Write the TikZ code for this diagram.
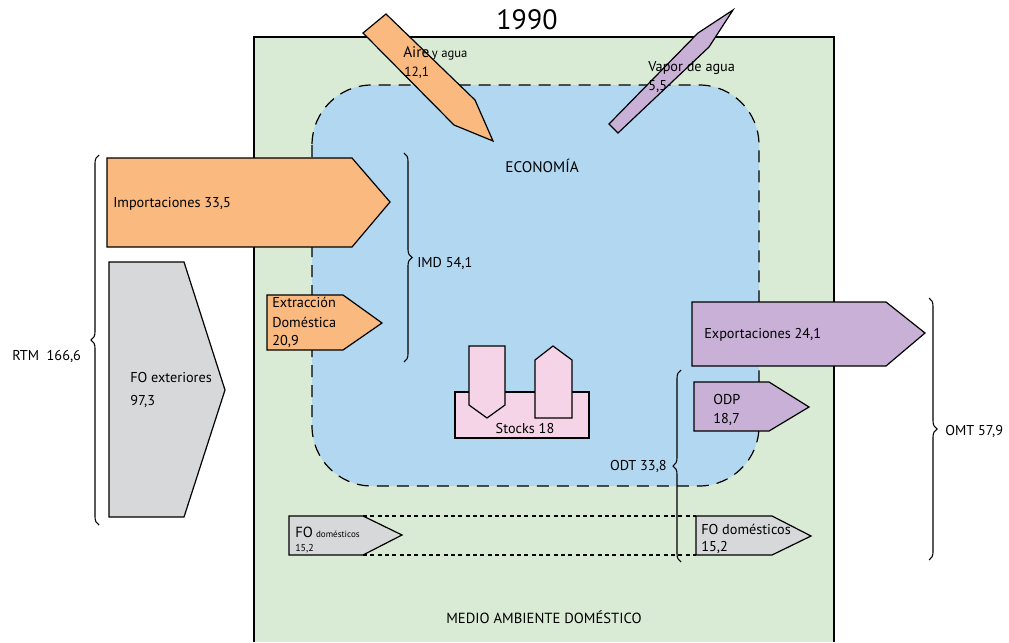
\documentclass[tikz,border=0pt]{standalone}
\usepackage{fontspec}
\setmainfont{PT Sans}
\usetikzlibrary{decorations.pathreplacing}
\definecolor{envgreen}{RGB}{217,234,213}
\definecolor{econblue}{RGB}{178,215,240}
\definecolor{inorange}{RGB}{249,185,127}
\definecolor{fogray}{RGB}{215,216,218}
\definecolor{outpurple}{RGB}{200,176,214}
\definecolor{stockpink}{RGB}{244,212,230}
\begin{document}
\begin{tikzpicture}[x=0.75pt,y=-0.75pt,
  lab/.style={font=\fontsize{10.7}{12}\selectfont, inner sep=0pt, anchor=base west},
  smalllab/.style={font=\fontsize{7.5}{8}\selectfont, inner sep=0pt, anchor=base west},
  shp/.style={draw=black, line width=0.9pt, line join=miter},
  bracestyle/.style={draw=black, decorate, decoration={brace, amplitude=6pt}, line width=0.8pt},
  dotline/.style={draw=black, line width=0.8pt, dash pattern=on 3pt off 2.5pt}]
\useasboundingbox (0,0) rectangle (1009,642);

% environment
\fill[envgreen] (254,37) rectangle (834,642);
\draw[line width=0.8pt] (254,642) -- (254,37) -- (834,37) -- (834,642);

% economy
\draw[fill=econblue, line width=0.9pt, dash pattern=on 9pt off 6pt, rounded corners=45pt]
  (312,85) rectangle (759,486);

% title and region labels
\node[font=\fontsize{21}{24}\selectfont, inner sep=0pt, anchor=base] (title) at (527,30) {1990};
\node[lab, anchor=base, font=\fontsize{11.5}{13}\selectfont] (econ) at (542,172) {ECONOMÍA};
\node[lab, anchor=base, font=\fontsize{11}{13}\selectfont] (env) at (544,623) {MEDIO AMBIENTE DOMÉSTICO};

% air and water inflow
\filldraw[shp, fill=inorange] (386,14) coordinate (aireA) -- (475,100) -- (493,141) coordinate (aireTip) -- (454,125) -- (363,33) -- cycle;
\node[lab, font=\fontsize{11.5}{13}\selectfont] (aire) at (403,58) {Aire};
\node[smalllab, font=\fontsize{9.5}{10}\selectfont, anchor=base west] (yagua) at (aire.base east) {\,y agua};
\node[smalllab, font=\fontsize{10}{11}\selectfont] (aireval) at (404,77) {12,1};

% water vapour outflow
\filldraw[shp, fill=outpurple] (733,10) coordinate (vapTip) -- (698,33) -- (609,124) -- (618,133) -- (709,47) -- cycle;
\node[lab] (vapor) at (648,71) {Vapor de agua};
\node[lab] (vaporval) at (648,90) {5,5};

% imports
\filldraw[shp, fill=inorange] (107,158) -- (352,158) -- (390,202) coordinate (impTip) -- (352,247) -- (107,247) -- cycle;
\node[lab] (imp) at (113,207) {Importaciones 33,5};

% foreign unused
\filldraw[shp, fill=fogray] (109,262) -- (184,262) -- (225,390) coordinate (foeTip) -- (184,517) -- (109,517) -- cycle;
\node[lab] (foe) at (130,382) {FO exteriores};
\node[lab] (foeval) at (130,405) {97,3};

% RTM brace
\coordinate (rtmB) at (99,525);
\coordinate (rtmT) at (99,155);
\draw[bracestyle] (rtmB) -- (rtmT);
\node[lab] (rtm) at (12,360) {RTM\ \ 166,6};

% domestic extraction
\filldraw[shp, fill=inorange] (267,295) -- (343,295) -- (382,323) coordinate (extTip) -- (343,350) -- (267,350) -- cycle;
\node[lab] (ext1) at (272,307) {Extracción};
\node[lab] (ext2) at (272,327) {Doméstica};
\node[lab] (ext3) at (272,345) {20,9};

% IMD brace
\coordinate (imdT) at (404,153);
\coordinate (imdB) at (404,362);
\draw[bracestyle] (imdT) -- (imdB);
\node[lab] (imd) at (417,267) {IMD 54,1};

% stocks
\filldraw[shp, fill=stockpink] (455,392) rectangle (589,438);
\filldraw[shp, fill=stockpink] (469,346) -- (505,346) -- (505,405) -- (487,418) coordinate (stDown) -- (469,405) -- cycle;
\filldraw[shp, fill=stockpink] (553,346) coordinate (stUp) -- (572,360) -- (572,418) -- (535,418) -- (535,360) -- cycle;
\node[lab, anchor=base] (stocks) at (525,433) {Stocks 18};

% exports
\filldraw[shp, fill=outpurple] (692,302) -- (886,302) -- (925,333) coordinate (expTip) -- (886,366) -- (692,366) -- cycle;
\node[lab] (exp) at (704,338) {Exportaciones 24,1};

% ODP
\filldraw[shp, fill=outpurple] (694,382) -- (769,382) -- (809,407) coordinate (odpTip) -- (769,431) -- (694,431) -- cycle;
\node[lab] (odp1) at (713,404) {ODP};
\node[lab] (odp2) at (713,423) {18,7};

% domestic unused (left)
\filldraw[shp, fill=fogray] (289,516) coordinate (fdlTL) -- (363,516) coordinate (fdlTR) -- (402,535) -- (363,555) coordinate (fdlBR) -- (289,555) -- cycle;
\node[lab, font=\fontsize{11}{12}\selectfont] (fdl1) at (295,537) {FO};
\node[smalllab, font=\fontsize{6.8}{7}\selectfont] (fdl2) at ([xshift=2pt]fdl1.base east) {domésticos};
\node[smalllab] (fdl3) at (295,551) {15,2};

% domestic unused (right)
\filldraw[shp, fill=fogray] (696,516) coordinate (fdrTL) -- (772,516) -- (811,536) coordinate (fdrTip) -- (772,555) -- (696,555) coordinate (fdrBL) -- cycle;
\node[lab] (fdr1) at (701,534) {FO domésticos};
\node[lab] (fdr2) at (701,551) {15,2};

% dotted links
\draw[dotline] (fdlTR) -- (fdrTL);
\draw[dotline] (fdlBR) -- (fdrBL);

% ODT brace
\coordinate (odtB) at (681,562);
\coordinate (odtT) at (681,370);
\draw[bracestyle] (odtB) -- (odtT);
\node[lab, anchor=base east] (odt) at (667,470) {ODT 33,8};

% OMT brace
\coordinate (omtT) at (929,298);
\coordinate (omtB) at (929,560);
\draw[bracestyle] (omtT) -- (omtB);
\node[lab] (omt) at (945,435) {OMT 57,9};
\end{tikzpicture}
\end{document}
